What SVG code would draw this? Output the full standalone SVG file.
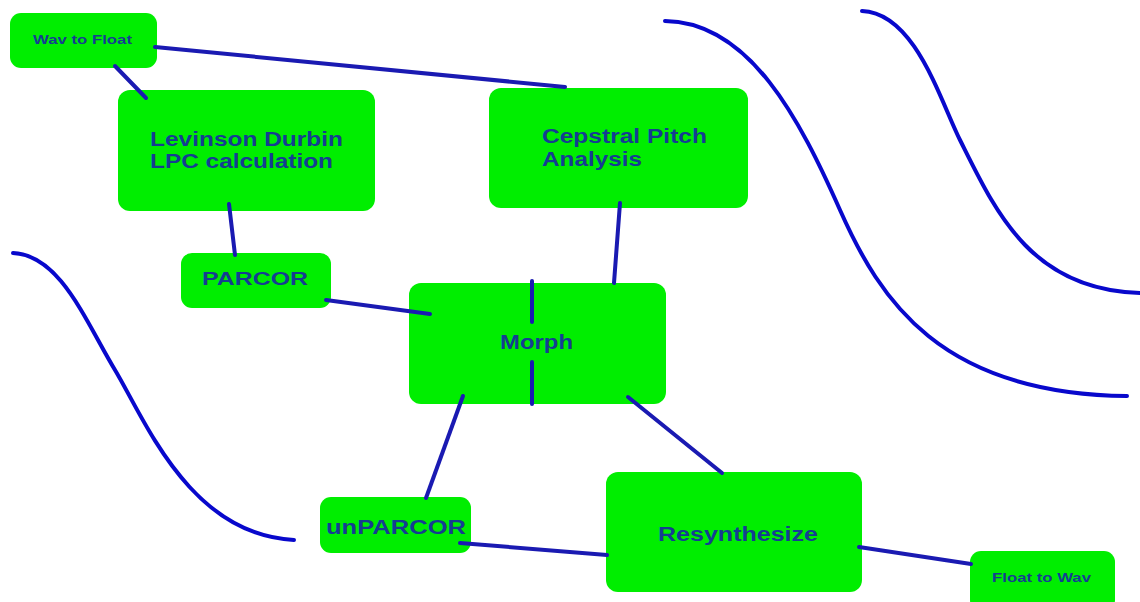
<svg xmlns="http://www.w3.org/2000/svg" width="1140" height="602" viewBox="0 0 1140 602">
<style>
.box{fill:#00ee00;stroke:none}
.lbl{font-family:"Liberation Sans",Arial,sans-serif;font-weight:bold;fill:#153d92}
.con{stroke:#1a1ab2;stroke-width:4;stroke-linecap:round;fill:none}
.crv{stroke:#0808cc;stroke-width:4;stroke-linecap:round;fill:none}
</style>
<rect width="1140" height="602" fill="#ffffff"/>
<g id="curves">
<path class="crv" d="M13,253 C60,255 85,320 115,370 C145,420 190,535 294,540"/>
<path class="crv" d="M665,21 C750,22 800,120 840,210 C880,300 940,394 1127,396"/>
<path class="crv" d="M862,11 C915,13 940,100 960,140 C995,210 1030,290 1140,293"/>
</g>
<g id="wav-to-float">
<rect class="box" x="10" y="13" width="147" height="55" rx="11"/>
<text class="lbl" x="33" y="44" font-size="12" textLength="99" lengthAdjust="spacingAndGlyphs">Wav to Float</text>
</g>
<g id="levinson">
<rect class="box" x="118" y="90" width="257" height="121" rx="12"/>
<text class="lbl" x="150" y="146" font-size="20" textLength="193" lengthAdjust="spacingAndGlyphs">Levinson Durbin</text>
<text class="lbl" x="150" y="168" font-size="20" textLength="183" lengthAdjust="spacingAndGlyphs">LPC calculation</text>
</g>
<g id="cepstral">
<rect class="box" x="489" y="88" width="259" height="120" rx="12"/>
<text class="lbl" x="542" y="143" font-size="20" textLength="165" lengthAdjust="spacingAndGlyphs">Cepstral Pitch</text>
<text class="lbl" x="542" y="166" font-size="20" textLength="100" lengthAdjust="spacingAndGlyphs">Analysis</text>
</g>
<g id="parcor">
<rect class="box" x="181" y="253" width="150" height="55" rx="11"/>
<text class="lbl" x="202" y="285" font-size="19" textLength="106" lengthAdjust="spacingAndGlyphs">PARCOR</text>
</g>
<g id="morph">
<rect class="box" x="409" y="283" width="257" height="121" rx="12"/>
<text class="lbl" x="500" y="349" font-size="20" textLength="73" lengthAdjust="spacingAndGlyphs">Morph</text>
</g>
<g id="unparcor">
<rect class="box" x="320" y="497" width="151" height="56" rx="11"/>
<text class="lbl" x="326" y="534" font-size="21" textLength="140" lengthAdjust="spacingAndGlyphs">unPARCOR</text>
</g>
<g id="resynthesize">
<rect class="box" x="606" y="472" width="256" height="120" rx="12"/>
<text class="lbl" x="658" y="541" font-size="20" textLength="160" lengthAdjust="spacingAndGlyphs">Resynthesize</text>
</g>
<g id="float-to-wav">
<rect class="box" x="970" y="551" width="145" height="60" rx="11"/>
<text class="lbl" x="992" y="582" font-size="12" textLength="99" lengthAdjust="spacingAndGlyphs">Float to Wav</text>
</g>
<g id="connectors">
<line class="con" x1="155" y1="47" x2="565" y2="87"/>
<line class="con" x1="115" y1="66" x2="146" y2="98"/>
<line class="con" x1="229" y1="204" x2="235" y2="255"/>
<line class="con" x1="326" y1="300" x2="430" y2="314"/>
<line class="con" x1="620" y1="203" x2="614" y2="283"/>
<line class="con" x1="532" y1="281" x2="532" y2="322"/>
<line class="con" x1="532" y1="362" x2="532" y2="404"/>
<line class="con" x1="463" y1="396" x2="426" y2="498"/>
<line class="con" x1="628" y1="397" x2="722" y2="473"/>
<line class="con" x1="460" y1="543" x2="607" y2="555"/>
<line class="con" x1="859" y1="547" x2="971" y2="564"/>
</g>
</svg>
